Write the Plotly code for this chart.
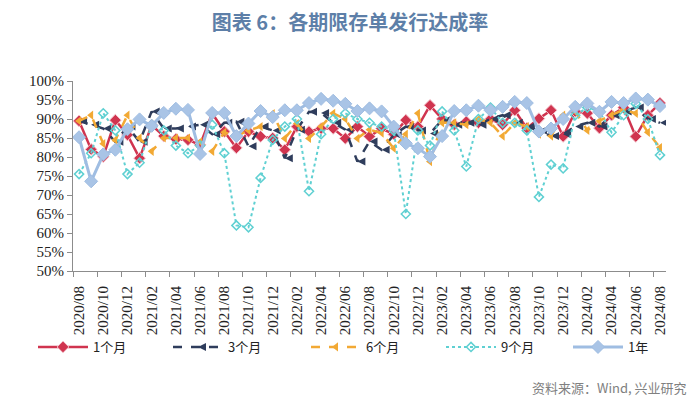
import plotly.graph_objects as go

months = []
for y in range(2020, 2025):
    for m in range(1, 13):
        if (y == 2020 and m < 8) or (y == 2024 and m > 8):
            continue
        months.append(f"{y}/{m:02d}")

one_m = [89.5, 82.0, 80.1, 89.7, 85.8, 79.7, 88.4, 85.5, 84.7, 84.5, 83.2, 91.5, 86.7,
         82.4, 86.7, 85.4, 85.0, 81.9, 88.0, 86.7, 87.5, 87.5, 84.9, 88.0, 85.4, 87.5,
         86.0, 89.7, 88.0, 93.6, 90.0, 88.5, 89.3, 89.0, 90.0, 88.5, 92.3, 87.6, 90.1,
         92.3, 85.4, 92.0, 91.5, 87.6, 91.0, 93.0, 85.4, 91.0, 94.2]
three_m = [89.5, 88.5, 87.5, 84.0, 88.0, 84.0, 92.0, 87.5, 87.5, 88.0, 88.5, 86.0, 89.0,
           89.3, 82.8, 88.0, 87.0, 79.7, 87.2, 91.9, 91.6, 89.0, 87.2, 78.8, 84.1, 81.9,
           85.8, 88.0, 87.0, 86.2, 89.7, 88.5, 89.0, 88.5, 90.0, 91.0, 89.0, 88.0, 87.0,
           85.5, 86.0, 88.0, 89.0, 88.0, 91.0, 92.0, 93.0, 90.0, 89.0]
six_m = [89.5, 91.0, 83.5, 84.5, 91.0, 85.0, 81.5, 85.0, 85.0, 85.0, 84.0, 81.5, 86.5,
         85.5, 87.0, 88.0, 91.4, 84.9, 88.8, 84.9, 88.0, 91.5, 90.0, 84.9, 87.2, 86.3,
         82.3, 86.0, 91.5, 78.8, 89.0, 89.0, 88.5, 90.0, 89.0, 85.5, 89.0, 88.0, 86.0,
         85.5, 91.0, 92.0, 87.0, 89.5, 91.0, 92.5, 91.5, 86.5, 82.5]
nine_m = [75.5, 81.0, 91.5, 87.0, 75.5, 78.5, 88.5, 87.0, 83.0, 81.0, 83.0, 88.5, 81.0,
          62.0, 61.5, 74.5, 84.5, 88.0, 90.0, 71.0, 86.0, 90.0, 91.5, 90.0, 89.0, 88.0,
          87.0, 65.0, 87.0, 83.0, 92.0, 87.0, 77.5, 90.0, 93.0, 89.0, 89.0, 87.0, 69.5,
          78.0, 77.0, 91.0, 93.0, 92.0, 86.5, 91.0, 94.0, 90.0, 80.5]
one_y = [85.2, 73.6, 80.7, 81.9, 87.3, 89.9, 88.2, 91.6, 92.7, 92.4, 80.8, 91.6, 91.6,
         85.5, 88.8, 92.1, 90.5, 92.3, 92.3, 94.2, 95.3, 94.8, 94.0, 92.1, 92.8, 92.0,
         88.0, 83.6, 82.3, 80.1, 85.5, 92.1, 92.3, 93.5, 92.3, 93.2, 94.5, 94.2, 86.7,
         87.5, 90.0, 93.2, 94.1, 91.9, 94.5, 94.2, 95.4, 95.1, 93.4]

series_names = ["1个月", "3个月", "6个月", "9个月", "1年"]
x = list(range(len(months)))
tick_idx = list(range(0, len(months), 2))
tick_labels = [months[i] for i in tick_idx]

# figure geometry (page has an 8px body offset)
W, H = 692, 396
L, T, R, B = 65, 73, 34, 133
PW, PH = W - L - R, H - T - B

def px_x(fx):
    return (fx - 8 - L) / PW

def px_y(fy):
    return (H - B - (fy - 8)) / PH

fig = go.Figure()
styles = [
    (one_m, dict(color="#D0344F", width=2.5, dash="solid"), dict(symbol="diamond", size=9, color="#D0344F", line=dict(color="#F5C6CF", width=1))),
    (three_m, dict(color="#2F3D5C", width=2.5, dash="dash"), dict(symbol="arrow-left", size=8, color="#2F3D5C")),
    (six_m, dict(color="#F2A934", width=2.5, dash="dash"), dict(symbol="triangle-left", size=8, color="#F2A934")),
    (nine_m, dict(color="#5FD0D2", width=2, dash="dot"), dict(symbol="diamond-open", size=7, color="#5FD0D2", line=dict(width=1.5))),
    (one_y, dict(color="#9FBDE2", width=3, dash="solid"), dict(symbol="diamond", size=10, color="#A9C4E6", line=dict(color="#9FBDE2", width=1))),
]
legend_ids = ["legend", "legend2", "legend3", "legend4", "legend5"]
legend_text_x = [97, 232, 370, 505, 632]
for name, lid, (vals, ln, mk) in zip(series_names, legend_ids, styles):
    fig.add_trace(go.Scatter(x=x, y=vals, name=name, mode="lines+markers",
                             line=ln, marker=mk, legend=lid))

serif = "Liberation Serif, Times New Roman, serif"
legend_layout = {}
for lid, tx in zip(legend_ids, legend_text_x):
    legend_layout[lid] = dict(
        orientation="h", x=px_x(tx - 64), xanchor="left", y=px_y(347), yanchor="middle",
        font=dict(family="Noto Sans CJK SC", size=13, color="#222"),
        itemwidth=50, bgcolor="rgba(0,0,0,0)")

fig.update_layout(
    width=W, height=H,
    margin=dict(l=L, r=R, t=T, b=B, autoexpand=False),
    paper_bgcolor="white", plot_bgcolor="white",
    title=dict(text="<b>图表 6：各期限存单发行达成率</b>", x=(350 - 8) / W, xanchor="center",
               y=1 - (23 - 8) / H, yanchor="middle",
               font=dict(family="Noto Sans CJK SC", size=20, color="#5D7FA8")),
    showlegend=True,
    **legend_layout,
)
fig.update_xaxes(
    range=[-0.5, len(months) - 0.5], tickmode="array", tickvals=tick_idx, ticktext=tick_labels,
    tickangle=-90, ticks="", showgrid=False, zeroline=False, automargin=False,
    showline=True, linecolor="#8C8C8C", linewidth=1,
    ticklabelstandoff=8,
    tickfont=dict(family=serif, size=15, color="#222"),
    minor=dict(tickmode="array", tickvals=[i - 0.5 for i in tick_idx], ticks="outside",
               ticklen=5, tickcolor="#8C8C8C", showgrid=False),
)
fig.update_yaxes(
    range=[50, 100], dtick=5, ticksuffix="%", showgrid=False, zeroline=False, automargin=False,
    showline=True, linecolor="#8C8C8C", linewidth=1, ticks="outside", ticklen=5,
    tickcolor="#8C8C8C", tickfont=dict(family=serif, size=15, color="#222"),
)
fig.add_annotation(text="资料来源：Wind, 兴业研究", xref="paper", yref="paper",
                   x=px_x(689), y=px_y(387), xanchor="right", yanchor="middle",
                   showarrow=False, font=dict(family="Noto Sans CJK SC", size=13, color="#808080"))

fig.write_html("out.html")
